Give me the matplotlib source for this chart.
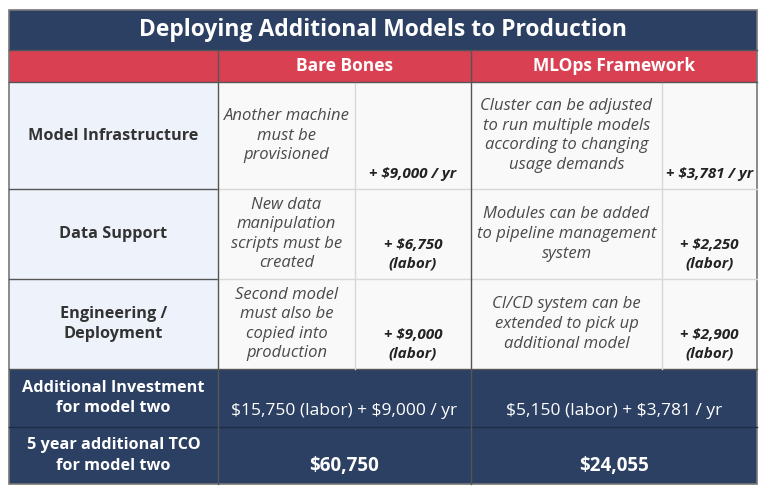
import matplotlib.pyplot as plt
from matplotlib.patches import Rectangle

plt.rcParams['font.family'] = ['Open Sans', 'DejaVu Sans']

title = "Deploying Additional Models to Production"
columns = ["Bare Bones", "MLOps Framework"]
row_labels = ["Model Infrastructure", "Data Support", "Engineering /\nDeployment"]
bare_desc = ["Another machine\nmust be\nprovisioned",
             "New data\nmanipulation\nscripts must be\ncreated",
             "Second model\nmust also be\ncopied into\nproduction"]
bare_cost = ["+ \\$9,000 / yr", "+ \\$6,750\n(labor)", "+ \\$9,000\n(labor)"]
mlops_desc = ["Cluster can be adjusted\nto run multiple models\naccording to changing\nusage demands",
              "Modules can be added\nto pipeline management\nsystem",
              "CI/CD system can be\nextended to pick up\nadditional model"]
mlops_cost = ["+ \\$3,781 / yr", "+ \\$2,250\n(labor)", "+ \\$2,900\n(labor)"]
total_labels = ["Additional Investment\nfor model two", "5 year additional TCO\nfor model two"]
bare_total = ["\\$15,750 (labor) + \\$9,000 / yr", "\\$60,750"]
mlops_total = ["\\$5,150 (labor) + \\$3,781 / yr", "\\$24,055"]

navy = "#2c4063"
red = "#d94153"
label_bg = "#eef3fb"
cell_bg = "#f9f9f9"
light_line = "#d8d8d8"
dark_line = "#555555"

# layout in pixels
x0, x1 = 9, 757
xl = 218          # end of label column
xb_sub = 355      # bare bones sub divider
xm = 471          # start of mlops
xm_sub = 662      # mlops sub divider
y_title = (10, 50)
y_head = (50, 82)
body_rows = [(82, 189), (189, 279), (279, 369)]
total_rows = [(369, 427), (427, 484)]

fig = plt.figure(figsize=(7.68, 4.93), dpi=100)
ax = fig.add_axes([0, 0, 1, 1])
ax.set_xlim(0, 768)
ax.set_ylim(493, 0)
ax.axis('off')

def box(xa, ya, xb, yb, color):
    ax.add_patch(Rectangle((xa, ya), xb - xa, yb - ya, facecolor=color, edgecolor='none'))

# title
box(x0, y_title[0], x1, y_title[1], navy)
ax.text((x0 + x1) / 2, sum(y_title) / 2, title, ha='center', va='center',
        color='white', fontsize=16.5, fontweight='bold')

# header
box(x0, y_head[0], x1, y_head[1], red)
ax.text((xl + xm) / 2, sum(y_head) / 2, columns[0], ha='center', va='center',
        color='white', fontsize=12.5, fontweight='bold')
ax.text((xm + x1) / 2, sum(y_head) / 2, columns[1], ha='center', va='center',
        color='white', fontsize=12.5, fontweight='bold')

# body rows
for i, (ya, yb) in enumerate(body_rows):
    box(x0, ya, xl, yb, label_bg)
    box(xl, ya, x1, yb, cell_bg)
    yc = (ya + yb) / 2
    ax.text((x0 + xl) / 2, yc, row_labels[i], ha='center', va='center',
            color='#333333', fontsize=11.7, fontweight='bold', linespacing=1.4)
    ax.text((xl + xb_sub) / 2, yc, bare_desc[i], ha='center', va='center',
            color='#4a4a4a', fontsize=12, style='italic', linespacing=1.3)
    ax.text((xm + xm_sub) / 2, yc, mlops_desc[i], ha='center', va='center',
            color='#4a4a4a', fontsize=12, style='italic', linespacing=1.3)
    ax.text((xb_sub + xm) / 2, yb - 8, bare_cost[i], ha='center', va='bottom',
            color='#222222', fontsize=11, style='italic', fontweight='bold', linespacing=1.45)
    ax.text((xm_sub + x1) / 2, yb - 8, mlops_cost[i], ha='center', va='bottom',
            color='#222222', fontsize=11, style='italic', fontweight='bold', linespacing=1.45)

# totals
for i, (ya, yb) in enumerate(total_rows):
    box(x0, ya, x1, yb, navy)
    yc = (ya + yb) / 2
    ax.text((x0 + xl) / 2, yc, total_labels[i], ha='center', va='center',
            color='white', fontsize=11.7, fontweight='bold', linespacing=1.4)
    w = 'normal' if i == 0 else 'bold'
    fs = 12.5 if i == 0 else 13.5
    ax.text((xl + xm) / 2, yb - 8, bare_total[i], ha='center', va='bottom',
            color='white', fontsize=fs, fontweight=w)
    ax.text((xm + x1) / 2, yb - 8, mlops_total[i], ha='center', va='bottom',
            color='white', fontsize=fs, fontweight=w)

# grid lines
for ya, yb in body_rows[1:]:
    ax.plot([x0, xl], [ya, ya], color=dark_line, lw=1)
    ax.plot([xl, x1], [ya, ya], color=light_line, lw=1)
ax.plot([x0, x1], [369, 369], color=dark_line, lw=1)
ax.plot([x0, x1], [427, 427], color='#1e2d47', lw=1)
ax.plot([xb_sub, xb_sub], [82, 369], color=light_line, lw=1)
ax.plot([xm_sub, xm_sub], [82, 369], color=light_line, lw=1)
ax.plot([xl, xl], [50, 484], color=dark_line, lw=1)
ax.plot([xm, xm], [50, 484], color=dark_line, lw=1)
ax.plot([x0, x1], [50, 50], color=dark_line, lw=1)
ax.plot([x0, x1], [82, 82], color=dark_line, lw=1)
ax.add_patch(Rectangle((x0, 10), x1 - x0, 474, facecolor='none', edgecolor='#777777', lw=1.2))

fig.savefig("out.png", dpi=100)
